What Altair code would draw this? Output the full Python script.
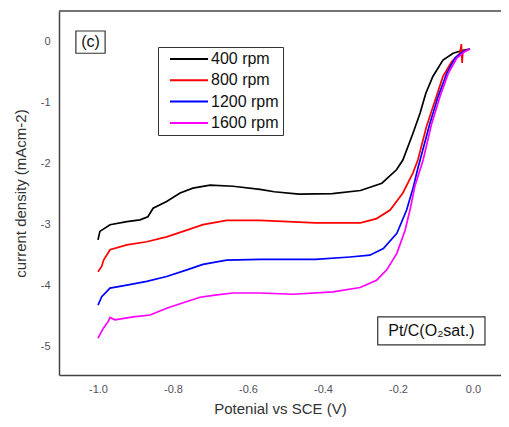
import altair as alt
import pandas as pd

series = ["400 rpm", "800 rpm", "1200 rpm", "1600 rpm"]
colors = ["#000000", "#ff0000", "#0000ff", "#ff00ff"]

x400 = [-1.0, -0.995, -0.968, -0.923, -0.888, -0.867, -0.853, -0.817, -0.781, -0.747, -0.701,
        -0.64, -0.568, -0.53, -0.464, -0.375, -0.30, -0.243, -0.204, -0.187, -0.16, -0.141,
        -0.126, -0.107, -0.08, -0.053, -0.027, -0.008]
y400 = [-3.25, -3.11, -3.00, -2.95, -2.92, -2.87, -2.73, -2.62, -2.48, -2.40, -2.35,
        -2.37, -2.42, -2.46, -2.50, -2.49, -2.44, -2.32, -2.10, -1.94, -1.50, -1.17,
        -0.85, -0.57, -0.30, -0.19, -0.14, -0.12]

x800 = [-1.0, -0.99, -0.985, -0.968, -0.923, -0.87, -0.817, -0.763, -0.72, -0.657, -0.568,
        -0.42, -0.30, -0.257, -0.221, -0.187, -0.16, -0.147, -0.124, -0.101, -0.08, -0.057,
        -0.035, -0.031, -0.029, -0.027, -0.013]
y800 = [-3.77, -3.68, -3.58, -3.41, -3.33, -3.28, -3.20, -3.09, -3.00, -2.93, -2.93,
        -2.97, -2.97, -2.90, -2.76, -2.48, -2.15, -1.94, -1.39, -0.96, -0.57, -0.33,
        -0.19, -0.04, -0.35, -0.15, -0.13]

x1200 = [-1.0, -0.99, -0.968, -0.923, -0.87, -0.817, -0.763, -0.72, -0.657, -0.568, -0.42,
         -0.328, -0.275, -0.239, -0.203, -0.177, -0.159, -0.146, -0.141, -0.115, -0.093,
         -0.07, -0.048, -0.026, -0.008]
y1200 = [-4.32, -4.18, -4.04, -3.99, -3.93, -3.85, -3.74, -3.65, -3.58, -3.57, -3.57,
         -3.53, -3.50, -3.39, -3.14, -2.76, -2.38, -2.05, -1.94, -1.34, -0.90,
         -0.52, -0.27, -0.16, -0.12]

x1600 = [-1.0, -0.986, -0.973, -0.968, -0.955, -0.906, -0.861, -0.817, -0.773, -0.728,
         -0.683, -0.64, -0.568, -0.479, -0.373, -0.301, -0.257, -0.23, -0.203, -0.181,
         -0.168, -0.155, -0.133, -0.110, -0.088, -0.066, -0.043, -0.021, -0.008]
y1600 = [-4.86, -4.70, -4.59, -4.52, -4.56, -4.51, -4.48, -4.37, -4.28, -4.19,
         -4.15, -4.12, -4.12, -4.14, -4.10, -4.03, -3.91, -3.74, -3.47, -3.09,
         -2.76, -2.37, -1.94, -1.34, -0.90, -0.52, -0.27, -0.16, -0.12]

x_ticks = [-1.0, -0.8, -0.6, -0.4, -0.2, 0.0]
y_ticks = [-5, -4, -3, -2, -1, 0]

rows = []
for name, xs, ys in zip(series, [x400, x800, x1200, x1600], [y400, y800, y1200, y1600]):
    for i, (a, b) in enumerate(zip(xs, ys)):
        rows.append({"series": name, "E": a, "j": b, "i": i})
df = pd.DataFrame(rows)

W, H = 442, 364
FONT = "Liberation Sans"
AX = "#444444"
LAB = "#505060"
xscale = alt.Scale(domain=[-1.104, 0.0747], nice=False, zero=False)
yscale = alt.Scale(domain=[-5.464, 0.503], nice=False, zero=False)
MINUS = "\u2212"

lines = alt.Chart(df).mark_line(strokeWidth=1.7, clip=True).encode(
    x=alt.X("E:Q", scale=xscale, axis=alt.Axis(
        title="Potenial vs SCE (V)", values=x_ticks,
        labelExpr=f"replace(format(datum.value, '.1f'), '{MINUS}', '-')",
        ticks=False, grid=False, domainColor=AX, domainWidth=1.5,
        labelColor=LAB, labelFontSize=11, labelFont=FONT, labelPadding=8,
        titleFont=FONT, titleFontSize=15, titleFontWeight="normal", titleColor="#333333",
        titlePadding=7)),
    y=alt.Y("j:Q", scale=yscale, axis=alt.Axis(
        title="current density (mAcm-2)", values=y_ticks,
        labelExpr=f"replace(format(datum.value, 'd'), '{MINUS}', '-')",
        ticks=False, grid=False, domainColor=AX, domainWidth=1.5,
        labelColor=LAB, labelFontSize=11, labelFont=FONT, labelPadding=9,
        titleFont=FONT, titleFontSize=15, titleFontWeight="normal", titleColor="#333333",
        titlePadding=12)),
    color=alt.Color("series:N", scale=alt.Scale(domain=series, range=colors),
                    legend=alt.Legend(title=None, orient="none", legendX=99, legendY=36,
                                      symbolType="M0,0H7.6", symbolSize=100, symbolStrokeWidth=2,
                                      labelFontSize=16, labelFont=FONT, labelColor="#111111",
                                      strokeColor="#333333", padding=4, rowPadding=5.3,
                                      labelOffset=33)),
    order="i:Q",
)

frame_top = alt.Chart(pd.DataFrame({"a": [0]})).mark_rule(color=AX, strokeWidth=1.5).encode(
    x=alt.value(0), x2=alt.value(W), y=alt.value(0))

ann = pd.DataFrame({
    "x": [-1.059, -0.254], "x2": [-0.981, 0.032],
    "y": [0.175, -4.51], "y2": [-0.19, -4.97],
    "tx": [-1.02, -0.111], "ty": [0.0, -4.74],
    "label": ["(c)", "Pt/C(O\u2082sat.)"],
})
boxes = alt.Chart(ann).mark_rect(fill="white", stroke="#333333", strokeWidth=1.2).encode(
    x=alt.X("x:Q", scale=xscale), x2="x2:Q", y=alt.Y("y:Q", scale=yscale), y2="y2:Q")
texts = alt.Chart(ann).mark_text(font=FONT, fontSize=16, color="#111111").encode(
    x=alt.X("tx:Q", scale=xscale), y=alt.Y("ty:Q", scale=yscale), text="label:N")

chart = alt.layer(lines, frame_top, boxes, texts).properties(
    width=W, height=H, autosize="none",
    padding={"left": 51, "top": 3, "right": 0, "bottom": 43},
).configure_view(strokeWidth=0)

chart.save("out.html", embed_options={"renderer": "svg", "actions": False})
